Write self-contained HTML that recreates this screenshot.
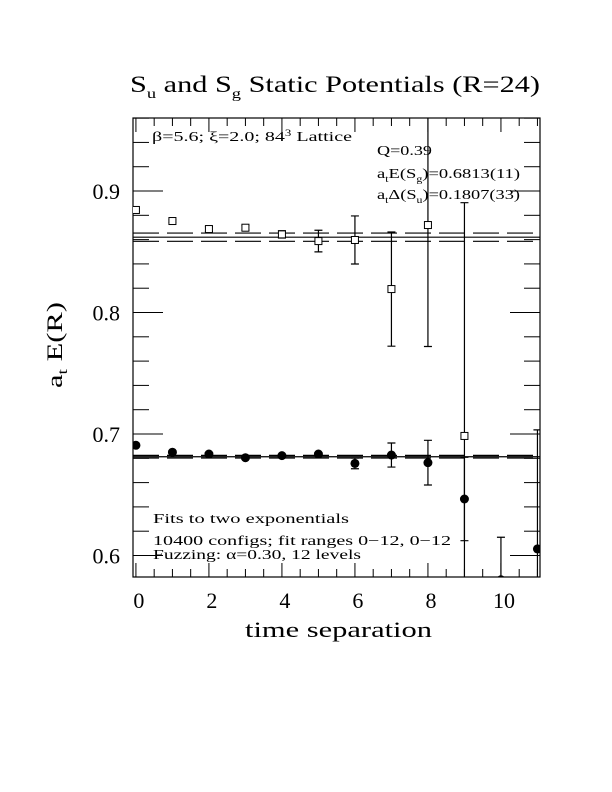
<!DOCTYPE html>
<html><head><meta charset="utf-8"><style>
html,body{margin:0;padding:0;background:#fff;}
svg{display:block;font-family:"Liberation Serif",serif;}
</style></head><body>
<svg id="chart" width="612" height="792" viewBox="0 0 612 792">
<rect width="612" height="792" fill="#fff"/>
<text x="130" y="92" font-size="23" textLength="410" lengthAdjust="spacingAndGlyphs">S<tspan font-size="14" dy="6">u</tspan><tspan dy="-6"> and S</tspan><tspan font-size="14" dy="6">g</tspan><tspan dy="-6"> Static Potentials (R=24)</tspan></text>
<g id="axes"></g>
<g id="marks"></g>
<text x="245" y="637" font-size="22" textLength="187" lengthAdjust="spacingAndGlyphs">time separation</text>
<text transform="translate(62,388) rotate(-90)" font-size="22" textLength="86" lengthAdjust="spacingAndGlyphs">a<tspan font-size="14" dy="5">t</tspan><tspan dy="-5"> E(R)</tspan></text>
<text x="152" y="141" font-size="14" textLength="200" lengthAdjust="spacingAndGlyphs">β=5.6; ξ=2.0; 84<tspan font-size="9" dy="-5">3</tspan><tspan dy="5"> Lattice</tspan></text>
<text x="377" y="155" font-size="14" textLength="55" lengthAdjust="spacingAndGlyphs">Q=0.39</text>
<text x="377" y="178" font-size="14" textLength="143" lengthAdjust="spacingAndGlyphs">a<tspan font-size="9" dy="4">t</tspan><tspan dy="-4">E(S</tspan><tspan font-size="9" dy="4">g</tspan><tspan dy="-4">)=0.6813(11)</tspan></text>
<text x="377" y="199" font-size="14" textLength="143" lengthAdjust="spacingAndGlyphs">a<tspan font-size="9" dy="4">t</tspan><tspan dy="-4">Δ(S</tspan><tspan font-size="9" dy="4">u</tspan><tspan dy="-4">)=0.1807(33)</tspan></text>
<text x="153" y="523" font-size="14" textLength="196" lengthAdjust="spacingAndGlyphs">Fits to two exponentials</text>
<text x="153" y="545" font-size="14" textLength="298" lengthAdjust="spacingAndGlyphs">10400 configs; fit ranges 0−12, 0−12</text>
<text x="153" y="559" font-size="14" textLength="208" lengthAdjust="spacingAndGlyphs">Fuzzing: α=0.30, 12 levels</text>
</svg>
<script>
const tValues=[0,1,2,3,4,5,6,7,8,9,10,11];
const sgValues=[0.6907,0.6850,0.6835,0.6805,0.6822,0.6835,0.6758,0.6827,0.6764,0.6465,0.580,0.6054];
const sgErrors=[0.001,0.001,0.001,0.001,0.001,0.001,0.0044,0.0099,0.0184,0.0343,0.035,0.098];
const suTimes=[0,1,2,3,4,5,6,7,8,9];
const suValues=[0.8844,0.8753,0.8687,0.8698,0.8643,0.8588,0.8597,0.8193,0.872,0.6984];
const suErrors=[0.001,0.001,0.002,0.002,0.003,0.0089,0.0198,0.047,0.1,0.192];
const sgFit=0.6813, sgFitErr=0.0011;
const suFit=0.8620, suFitErr=0.0034;
const xTickLabels=[0,2,4,6,8,10];
const yTickLabels=[0.6,0.7,0.8,0.9];
const X0=133,X1=540,Y0=118,Y1=577;
const xMin=-0.08,xMax=11.07,yMin=0.5823,yMax=0.9601;
const xs=t=>X0+(t-xMin)/(xMax-xMin)*(X1-X0);
const ys=v=>Y1-(v-yMin)/(yMax-yMin)*(Y1-Y0);
const NS="http://www.w3.org/2000/svg";
const axes=document.getElementById('axes');
const marks=document.getElementById('marks');
function mk(tag,attrs,parent){const e=document.createElementNS(NS,tag);for(const k in attrs)e.setAttribute(k,attrs[k]);parent.appendChild(e);return e;}
const clip=mk('clipPath',{id:'pc'},marks);mk('rect',{x:X0,y:Y0,width:X1-X0,height:Y1-Y0},clip);
let fr=mk('rect',{x:X0,y:Y0,width:X1-X0,height:Y1-Y0,fill:'none',stroke:'#000','stroke-width':1.2},axes);


for(let t=0;t<=11;t+=0.5){const x=xs(t);const L=(t%2===0)?14:8;
 mk('line',{x1:x,y1:Y1,x2:x,y2:Y1-L,stroke:'#000'},axes);mk('line',{x1:x,y1:Y0,x2:x,y2:Y0+L,stroke:'#000'},axes);}
xTickLabels.forEach(t=>{const e=mk('text',{x:xs(t)+3,y:608,'font-size':22,'text-anchor':'middle'},axes);e.textContent=t;
 
 });
for(let i=30;i<=48;i++){const v=i*0.02;const y=ys(v);if(y<Y0||y>Y1)continue;const L=(i%5===0)?30:16;
 mk('line',{x1:X0,y1:y,x2:X0+L,y2:y,stroke:'#000'},axes);mk('line',{x1:X1,y1:y,x2:X1-L,y2:y,stroke:'#000'},axes);}
yTickLabels.forEach(v=>{const e=mk('text',{x:120,y:ys(v)+8,'font-size':22,'text-anchor':'end'},axes);e.textContent=v.toFixed(1);
 
 });
const g=mk('g',{'clip-path':'url(#pc)'},marks);
function fitLines(v,e,name){
 let l=mk('line',{x1:X0,x2:X1,y1:ys(v),y2:ys(v),stroke:'#000','stroke-width':1.2},g);
 
 
 [v+e,v-e].forEach(w=>{let d=mk('line',{x1:X0,x2:X1,y1:ys(w),y2:ys(w),stroke:'#000','stroke-width':1.2,'stroke-dasharray':'26,8'},g);
  
  });
}
fitLines(sgFit,sgFitErr,'sg');fitLines(suFit,suFitErr,'su');
function errbar(t,v,e,name){const x=xs(t);
 let b=mk('path',{d:`M${x},${ys(v+e)}V${ys(v-e)}M${x-4},${ys(v+e)}h8M${x-4},${ys(v-e)}h8`,stroke:'#000','stroke-width':1.2,fill:'none'},g);
 
 }
tValues.forEach((t,i)=>{errbar(t,sgValues[i],sgErrors[i],'sg');
 let c=mk('circle',{cx:xs(t),cy:ys(sgValues[i]),r:4.5,fill:'#000'},g);
 
 });
suTimes.forEach((t,i)=>{errbar(t,suValues[i],suErrors[i],'su');
 let r=mk('rect',{x:xs(t)-3.5,y:ys(suValues[i])-3.5,width:7,height:7,fill:'#fff',stroke:'#000','stroke-width':1},g);
 
 });
</script>
</body></html>
